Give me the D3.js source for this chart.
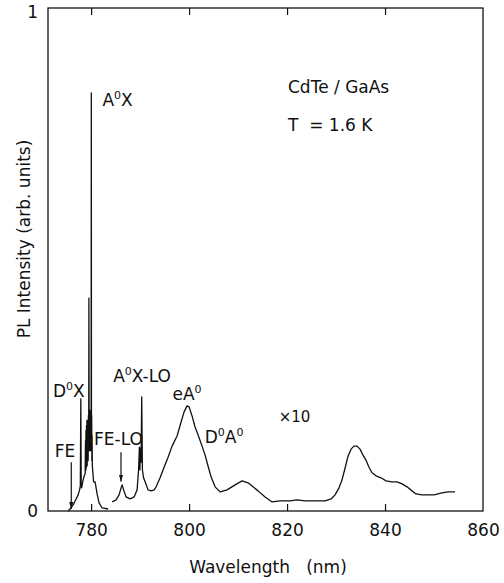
<!DOCTYPE html>
<html><head><meta charset="utf-8">
<script src="https://cdn.jsdelivr.net/npm/d3@7"></script>
<style>
html,body{margin:0;padding:0;background:#fff;}
svg text{font-family:"DejaVu Sans",sans-serif;fill:#111;}
</style></head>
<body><div id="chart"></div>
<script>
// Segment 1: exciton region (as measured)
const wl1 = [775.3,775.7,776.33,776.94,777.35,777.65,777.8,777.9,777.98,778.06,778.37,778.6,778.78,778.85,778.9,778.95,779.0,779.05,779.1,779.15,779.2,779.25,779.3,779.35,779.4,779.45,779.5,779.55,779.6,779.65,779.7,779.75,779.8,779.85,779.9,779.95,780.0,780.04,780.08,780.12,780.16,780.2,780.25,780.31,780.51,780.82,781.22,781.63,782.24,783.47];
const int1 = [0,0.004,0.012,0.024,0.032,0.042,0.05,0.223,0.05,0.046,0.062,0.07,0.074,0.14,0.08,0.16,0.085,0.17,0.09,0.18,0.09,0.18,0.1,0.17,0.1,0.19,0.12,0.423,0.13,0.19,0.12,0.2,0.13,0.19,0.12,0.2,0.15,0.831,0.15,0.19,0.1,0.15,0.09,0.082,0.058,0.058,0.034,0.016,0.006,0.004];
// Segment 2: LO replicas and acceptor bands (x10)
const wl2 = [784.29,785.1,785.71,786.12,786.33,786.63,787.14,787.96,788.78,789.39,789.69,789.86,789.96,790.06,790.2,790.33,790.47,790.71,791.02,791.63,792.24,792.86,793.27,794.08,794.9,795.71,796.53,797.55,798.37,798.98,799.59,800.0,800.61,801.22,801.84,802.65,803.27,803.88,804.49,805.31,806.33,807.76,809.39,810.82,812.04,813.06,814.08,815.51,816.94,818.57,820.61,822.04,823.67,825.71,827.76,828.98,829.8,830.61,831.22,831.84,832.45,833.06,833.67,834.29,834.9,835.51,836.12,836.73,837.35,838.16,839.18,840.2,841.43,842.45,843.47,844.49,845.51,846.33,847.55,848.78,850.0,850.82,851.63,852.86,854.29];
const int2 = [0.018,0.022,0.032,0.046,0.052,0.042,0.028,0.024,0.028,0.042,0.082,0.127,0.082,0.125,0.097,0.227,0.082,0.066,0.058,0.042,0.040,0.042,0.048,0.066,0.087,0.107,0.129,0.149,0.177,0.197,0.209,0.207,0.189,0.167,0.151,0.129,0.111,0.089,0.068,0.048,0.038,0.042,0.052,0.060,0.056,0.048,0.040,0.028,0.018,0.020,0.020,0.022,0.020,0.020,0.020,0.024,0.032,0.046,0.062,0.085,0.109,0.123,0.129,0.129,0.123,0.111,0.101,0.087,0.076,0.070,0.066,0.060,0.058,0.058,0.054,0.048,0.040,0.034,0.032,0.032,0.032,0.034,0.036,0.038,0.038];
const xTicks = [780,800,820,840,860];
const yTicks = [0,1];
const labels = [
  {parts:[["A",""],["0","sup"],["X",""]], wl:782.3, v:0.806},
  {parts:[["D",""],["0","sup"],["X",""]], wl:772.2, v:0.227},
  {parts:[["FE",""]], wl:772.6, v:0.107},
  {parts:[["FE-LO",""]], wl:780.6, v:0.131},
  {parts:[["A",""],["0","sup"],["X-LO",""]], wl:784.5, v:0.257},
  {parts:[["e",""],["A",""],["0","sup"]], wl:796.6, v:0.221},
  {parts:[["D",""],["0","sup"],["A",""],["0","sup"]], wl:803.2, v:0.135},
  {parts:[["\u00d710","small"]], wl:818.3, v:0.177}
];
const arrows = [
  {wl:775.95, v0:0.097, v1:0.004},
  {wl:786.1, v0:0.117, v1:0.058}
];

const W=504,H=583;
const svg=d3.select("#chart").append("svg").attr("width",W).attr("height",H);
const x=d3.scaleLinear().domain([771.2,860]).range([48,483]);
const y=d3.scaleLinear().domain([0,1]).range([511,8]);

svg.append("rect").attr("x",48).attr("y",8).attr("width",435).attr("height",503)
  .attr("fill","none").attr("stroke","#111").attr("stroke-width",1.3);

const xb=svg.append("g").attr("transform","translate(0,511)")
  .call(d3.axisBottom(x).tickValues(xTicks).tickSize(-7).tickPadding(13).tickFormat(d3.format("d")));
xb.select(".domain").remove();
xb.selectAll(".tick line").attr("stroke","#111").attr("stroke-width",1.2)
  .filter(d=>d===860).remove();
xb.selectAll("text").attr("font-size",17).attr("fill","#111");
const xt=svg.append("g").attr("transform","translate(0,8)")
  .call(d3.axisTop(x).tickValues(xTicks.filter(d=>d<860)).tickSize(-7).tickFormat(""));
xt.select(".domain").remove();
xt.selectAll(".tick line").attr("stroke","#111").attr("stroke-width",1.2);
const yl=svg.append("g").attr("transform","translate(48,0)")
  .call(d3.axisLeft(y).tickValues(yTicks).tickSize(0).tickPadding(10).tickFormat(d3.format("d")));
yl.select(".domain").remove();
yl.selectAll("text").attr("font-size",17).attr("fill","#111");
yl.selectAll(".tick").filter(d=>d===1).select("text").attr("dy","0.55em");

svg.append("text").attr("x",268).attr("y",573).attr("text-anchor","middle")
  .attr("font-size",17).style("white-space","pre").text("Wavelength   (nm)");
svg.append("text").attr("transform","translate(30,239) rotate(-90)").attr("text-anchor","middle")
  .attr("font-size",17).text("PL Intensity (arb. units)");

const line=d3.line().x(d=>x(d[0])).y(d=>y(d[1]));
[[wl1,int1],[wl2,int2]].forEach(([w,v])=>{
  svg.append("path").datum(w.map((d,i)=>[d,v[i]])).attr("d",line)
    .attr("fill","none").attr("stroke","#111").attr("stroke-width",1.3).attr("stroke-linejoin","round");
});

labels.forEach(l=>{
  const t=svg.append("text").attr("x",x(l.wl)).attr("y",y(l.v)).attr("font-size",17);
  let prevSup=false;
  l.parts.forEach(([s,k])=>{
    const ts=t.append("tspan").text(s);
    if(k==="sup"){ ts.attr("font-size",11).attr("dy",-7); prevSup=true; }
    else {
      if(k==="small") ts.attr("font-size",15);
      if(prevSup) ts.attr("dy",7);
      prevSup=false;
    }
  });
});

svg.append("defs").append("marker").attr("id","ah").attr("viewBox","0 0 10 10")
  .attr("refX",10).attr("refY",5).attr("markerWidth",6).attr("markerHeight",8).attr("orient","auto")
  .append("path").attr("d","M0,2 L10,5 L0,8 Z").attr("fill","#111");
arrows.forEach(a=>{
  svg.append("line").attr("x1",x(a.wl)).attr("x2",x(a.wl)).attr("y1",y(a.v0)).attr("y2",y(a.v1))
    .attr("stroke","#111").attr("stroke-width",1.2).attr("marker-end","url(#ah)");
});

svg.append("text").attr("x",288).attr("y",93).attr("font-size",17).text("CdTe / GaAs");
svg.append("text").attr("x",288).attr("y",131).attr("font-size",17).style("white-space","pre").text("T  = 1.6 K");
</script></body></html>
